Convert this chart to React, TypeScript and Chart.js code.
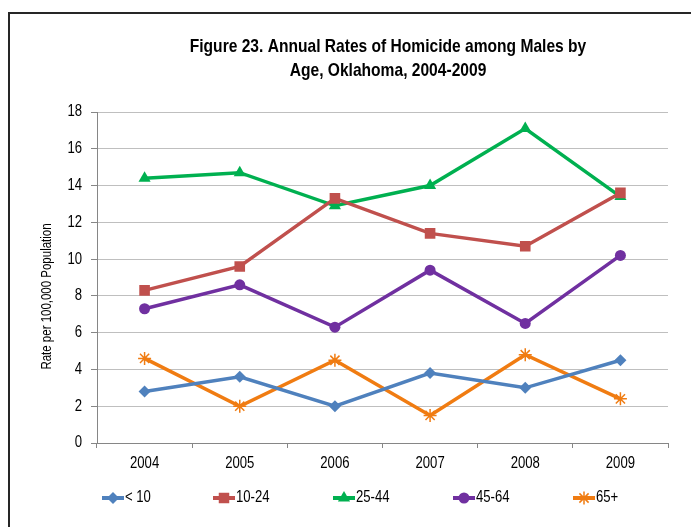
import React, { useEffect, useRef } from "react";
import { Chart, registerables } from "chart.js";

Chart.register(...registerables);

const years = ["2004", "2005", "2006", "2007", "2008", "2009"];
const seriesNames = ["< 10", "10-24", "25-44", "45-64", "65+"];
const under10 = [2.8, 3.6, 2.0, 3.8, 3.0, 4.5];
const age10to24 = [8.3, 9.6, 13.3, 11.4, 10.7, 13.6];
const age25to44 = [14.4, 14.7, 12.9, 14.0, 17.1, 13.4];
const age45to64 = [7.3, 8.6, 6.3, 9.4, 6.5, 10.2];
const age65plus = [4.6, 2.0, 4.5, 1.5, 4.8, 2.4];
const titleLines = ["Figure 23. Annual Rates of Homicide among Males by", "Age, Oklahoma, 2004-2009"];
const yAxisTitle = "Rate per 100,000 Population";

const FONT = '"Liberation Sans", Arial, sans-serif';
const NARROW = 0.82;
const colors = ["#4f81bd", "#c0504d", "#00b050", "#7030a0", "#f07c12"];
const markers = ["rectRot", "rect", "triangle", "circle", "star"];
const radii = [6, 7.5, 7, 5.5, 6.5];

function narrowText(
  ctx: CanvasRenderingContext2D,
  text: string,
  x: number,
  y: number,
  font: string,
  align: CanvasTextAlign,
  rotation = 0
) {
  ctx.save();
  ctx.translate(x, y);
  if (rotation) ctx.rotate(rotation);
  ctx.scale(NARROW, 1);
  ctx.font = font;
  ctx.fillStyle = "#000";
  ctx.textAlign = align;
  ctx.textBaseline = "middle";
  ctx.fillText(text, 0, 0);
  ctx.restore();
}

function drawMarker(ctx: CanvasRenderingContext2D, style: string, r: number, x: number, y: number) {
  ctx.beginPath();
  if (style === "rectRot") {
    ctx.moveTo(x, y - r);
    ctx.lineTo(x + r, y);
    ctx.lineTo(x, y + r);
    ctx.lineTo(x - r, y);
    ctx.closePath();
    ctx.fill();
  } else if (style === "rect") {
    const h = r * 0.7;
    ctx.rect(x - h, y - h, 2 * h, 2 * h);
    ctx.fill();
  } else if (style === "triangle") {
    ctx.moveTo(x, y - r);
    ctx.lineTo(x + r * 0.87, y + r * 0.5);
    ctx.lineTo(x - r * 0.87, y + r * 0.5);
    ctx.closePath();
    ctx.fill();
  } else if (style === "circle") {
    ctx.arc(x, y, r, 0, Math.PI * 2);
    ctx.fill();
  } else {
    ctx.lineWidth = 1.5;
    for (let k = 0; k < 4; k++) {
      const a = (k * Math.PI) / 4;
      ctx.moveTo(x - r * Math.cos(a), y - r * Math.sin(a));
      ctx.lineTo(x + r * Math.cos(a), y + r * Math.sin(a));
    }
    ctx.stroke();
  }
}

export default function App() {
  const ref = useRef<HTMLCanvasElement>(null);
  useEffect(() => {
    const values = [under10, age10to24, age25to44, age45to64, age65plus];
    const textPlugin = {
      id: "customText",
      afterDraw(chart: any) {
        const ctx = chart.ctx as CanvasRenderingContext2D;
        const area = chart.chartArea;
        const tf = `bold 19px ${FONT}`;
        narrowText(ctx, titleLines[0], 388, 47, tf, "center");
        narrowText(ctx, titleLines[1], 388, 71, tf, "center");
        const xs = chart.scales.x;
        xs.ticks.forEach((t: any, i: number) => {
          narrowText(ctx, String(xs.getLabelForValue(t.value)), xs.getPixelForTick(i), area.bottom + 21, `16px ${FONT}`, "center");
        });
        const ys = chart.scales.y;
        ys.ticks.forEach((t: any) => {
          narrowText(ctx, String(t.value), area.left - 15, ys.getPixelForValue(t.value), `16px ${FONT}`, "right");
        });
        narrowText(ctx, yAxisTitle, 47, (area.top + area.bottom) / 2 + 19, `14px ${FONT}`, "center", -Math.PI / 2);
        const starts = [102, 213, 333, 453, 573];
        const y = 498;
        chart.data.datasets.forEach((ds: any, i: number) => {
          const s = starts[i];
          ctx.save();
          ctx.strokeStyle = ds.borderColor;
          ctx.lineWidth = 4;
          ctx.beginPath();
          ctx.moveTo(s, y);
          ctx.lineTo(s + 22, y);
          ctx.stroke();
          ctx.fillStyle = ds.pointBackgroundColor;
          ctx.strokeStyle = ds.pointBorderColor;
          drawMarker(ctx, ds.pointStyle, ds.pointRadius, s + 11, y);
          ctx.restore();
          narrowText(ctx, ds.label, s + 23, y, `16px ${FONT}`, "left");
        });
      },
    };
    const chart = new Chart(ref.current!, {
      type: "line",
      data: {
        labels: years,
        datasets: seriesNames.map((name, i) => ({
          label: name,
          data: values[i],
          borderColor: colors[i],
          backgroundColor: colors[i],
          pointBackgroundColor: colors[i],
          pointBorderColor: colors[i],
          pointBorderWidth: markers[i] === "star" ? 1.5 : 0,
          pointStyle: markers[i] as any,
          pointRadius: radii[i],
          borderWidth: 3.5,
          tension: 0,
        })),
      },
      options: {
        responsive: false,
        animation: false,
        layout: { padding: { left: 10, right: 23, top: 112, bottom: 40 } },
        plugins: {
          legend: { display: false },
          title: { display: false },
          tooltip: { enabled: false },
        },
        scales: {
          x: {
            offset: true,
            grid: {
              display: true,
              drawOnChartArea: false,
              offset: true,
              tickLength: 5,
              color: "#868686",
            },
            border: { color: "#868686", width: 1 },
            ticks: { display: false },
            afterFit: (s: any) => {
              s.height = 44;
            },
          },
          y: {
            min: 0,
            max: 18,
            ticks: { stepSize: 2, display: false },
            grid: { color: "#bfbfbf", tickColor: "#868686", tickLength: 6, lineWidth: 1 },
            border: { color: "#868686", width: 1 },
            afterFit: (s: any) => {
              s.width = 87;
            },
          },
        },
      },
      plugins: [textPlugin],
    });
    return () => chart.destroy();
  }, []);

  return (
    <div style={{ position: "fixed", left: 0, top: 0, width: 691, height: 527, background: "#fff", overflow: "hidden" }}>
      <canvas ref={ref} width={691} height={527} style={{ position: "absolute", left: 0, top: 0 }} />
      <div
        style={{
          position: "absolute",
          left: 8,
          top: 12,
          width: 700,
          height: 540,
          borderLeft: "2px solid #262626",
          borderTop: "2px solid #262626",
          pointerEvents: "none",
        }}
      />
    </div>
  );
}
